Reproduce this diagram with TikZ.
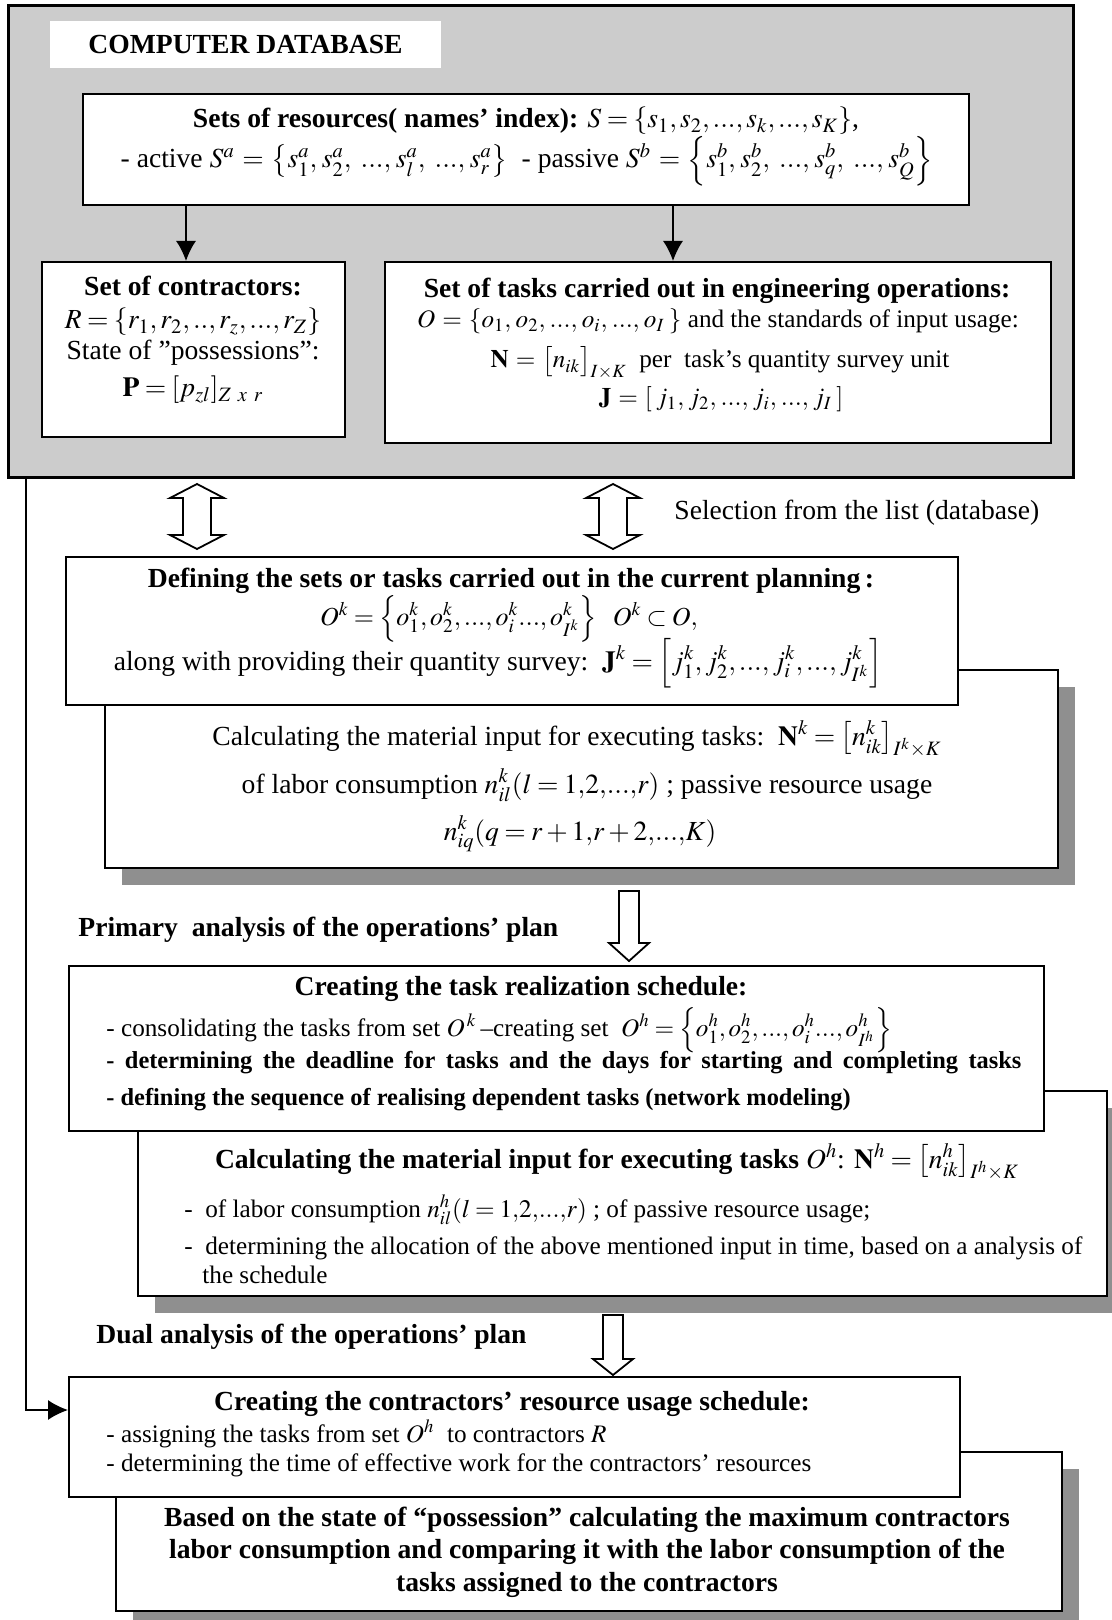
\documentclass[tikz,border=0pt]{standalone}
\usepackage{mathptmx}
\usepackage[no-math]{fontspec}
\setmainfont{Liberation Serif}
\usetikzlibrary{arrows.meta}

\thinmuskip=2mu
\medmuskip=2.5mu plus 1mu
\thickmuskip=3.5mu plus 1mu
\newcommand{\widemath}{\thinmuskip=3mu\medmuskip=4mu plus 2mu\thickmuskip=5mu plus 5mu}

\tikzstyle{box}=[rectangle,draw=black,line width=1pt,fill=white,inner sep=0pt]
\tikzstyle{shade}=[rectangle,fill=black!44,inner sep=0pt]
\tikzstyle{txt}=[inner sep=0pt,font=\fontsize{13.8}{16.5}\selectfont]
\tikzstyle{btxt}=[inner sep=0pt,font=\fontsize{13.8}{16.5}\selectfont\bfseries]
\tikzstyle{stxt}=[inner sep=0pt,font=\fontsize{12.6}{15}\selectfont]
\tikzstyle{sbtxt}=[inner sep=0pt,font=\fontsize{12.2}{15}\selectfont\bfseries]
\tikzstyle{hollow}=[draw=black,line width=0.9pt,fill=white,line join=miter]
\tikzstyle{link}=[-{Latex[length=10pt,width=10pt]},line width=0.8pt]

\begin{document}
\begin{tikzpicture}[x=0.5pt,y=-0.5pt,>=latex]
	\clip (0,0) rectangle (1112,1620);
	\fill[white] (0,0) rectangle (1112,1620);

	% database
	\node[box,fill=black!20,line width=1.5pt,minimum width=532.5pt,minimum height=235.5pt] (db) at (540.5,241.5) {};
	\node[rectangle,fill=white,minimum width=195.5pt,minimum height=23.5pt,font=\fontsize{13.8}{16.5}\selectfont\bfseries] (dbname) at (245.5,44.5) {COMPUTER DATABASE};

	\node[box,minimum width=443pt,minimum height=55.5pt] (res) at (526,149.5) {};
	\node[txt,anchor=base] (res1) at (526,128) {\textbf{Sets of resources( names’ index):} $S=\{s_1, s_2, ..., s_k, ..., s_K\}$,};
	\node[txt,anchor=base] (res2) at (527,168) {\widemath - active $S^a=\left\{s_1^a, s_2^a,\,..., s_l^a,\,..., s_r^a\right\}$ \ - passive $S^b=\left\{s_1^b, s_2^b,\,..., s_q^b,\,..., s_Q^b\right\}$};

	\node[box,minimum width=151.5pt,minimum height=87.5pt] (contr) at (193.5,349.5) {};
	\node[btxt,anchor=base] (contr1) at (193,296) {Set of contractors:};
	\node[txt,anchor=base] (contr2) at (193,329) {$R=\{r_1, r_2, .., r_z, ..., r_Z\}$};
	\node[txt,anchor=base] (contr3) at (193,360) {State of ”possessions”:};
	\node[txt,anchor=base] (contr4) at (193,397) {$\mathbf{P}=[p_{zl}]_{Z\ x\ r}$};

	\node[box,minimum width=333pt,minimum height=90.5pt] (tasks) at (718,352.5) {};
	\node[btxt,anchor=base] (tasks1) at (717,298) {Set of tasks carried out in engineering operations:};
	\node[stxt,anchor=base] (tasks2) at (718,328) {\widemath $O=\{o_1, o_2, ..., o_i, ..., o_I\,\}$ and the standards of input usage:};
	\node[stxt,anchor=base] (tasks3) at (720,368) {\widemath $\mathbf{N}=\bigl[n_{ik}\bigr]_{I\times K}$ \ per\ \ task’s quantity survey unit};
	\node[stxt,anchor=base] (tasks4) at (721,406) {\widemath $\mathbf{J}=[\,j_1, j_2, ..., j_i, ..., j_I\,]$};

	\coordinate (a1) at (186,0);
	\coordinate (a2) at (673,0);
	\draw[link] (res.south -| a1) -- (contr.north -| a1);
	\draw[link] (res.south -| a2) -- (tasks.north -| a2);

	% selection from the list
	\foreach \cx in {197,613}
		\draw[hollow] (\cx,484) -- ++(27,14) -- ++(-13,0) -- ++(0,37) -- ++(13,0) -- ++(-27,14)
			-- ++(-27,-14) -- ++(13,0) -- ++(0,-37) -- ++(-13,0) -- cycle;
	\node[txt,anchor=base west] (sel) at (674,519) {Selection from the list (database)};

	% current planning
	\node[shade,minimum width=476.5pt,minimum height=99pt] (calckshade) at (598.5,786) {};
	\node[box,minimum width=476.5pt,minimum height=99pt] (calck) at (581.5,769) {};
	\node[box,minimum width=446pt,minimum height=74pt] (def) at (512,631) {};
	\node[btxt,anchor=base] (def1) at (511,587) {Defining the sets or tasks carried out in the current planning\,:};
	\node[stxt,anchor=base] (def2) at (509,625) {\fontsize{13}{15}\selectfont $O^k=\left\{o_1^k, o_2^k,..., o_i^k ..., o_{I^k}^k\right\}\ \ O^k\subset O,$};
	\node[txt,anchor=base] (def3) at (498,670) {along with providing their quantity survey:\ \ $\mathbf{J}^k=\left[j_1^k, j_2^k,..., j_i^k,..., j_{I^k}^k\right]$};
	\node[txt,anchor=base] (calck1) at (577,745) {Calculating the material input for executing tasks:\ \ $\mathbf{N}^k=\left[n_{ik}^k\right]_{I^k\times K}$};
	\node[txt,anchor=base] (calck2) at (587,793) {of labor consumption $n_{il}^k(l=1{,}2{,}...{,}r)$ ; passive resource usage};
	\node[txt,anchor=base] (calck3) at (580,840) {$n_{iq}^k(q=r+1{,}r+2{,}...{,}K)$};

	% primary analysis
	\draw[hollow] (619,891) -- ++(20,0) -- ++(0,52) -- ++(10,0) -- ++(-20,18) -- ++(-20,-18) -- ++(10,0) -- cycle;
	\node[btxt,anchor=base west] (prim) at (78,936) {Primary\ \ analysis of the operations’ plan};

	\node[shade,minimum width=484.5pt,minimum height=102.5pt] (calchshade) at (639.5,1210.5) {};
	\node[box,minimum width=484.5pt,minimum height=102.5pt] (calch) at (622.5,1193.5) {};
	\node[box,minimum width=487.5pt,minimum height=82.5pt] (sched) at (556.5,1048.5) {};
	\node[btxt,anchor=base] (sched1) at (521,995) {Creating the task realization schedule:};
	\node[stxt,anchor=base west] (sched2) at (106,1036) {- consolidating the tasks from set $O^{\,k}$\,–creating set\ \ $O^h=\left\{o_1^h, o_2^h,..., o_i^h ..., o_{I^h}^h\right\}$};
	\node[sbtxt,anchor=base west] (sched3) at (106,1068) {\makebox[457.5pt][s]{- determining the deadline for tasks and the days for starting and completing tasks}};
	\node[sbtxt,anchor=base west] (sched4) at (106,1105) {- defining the sequence of realising dependent tasks (network modeling)};
	\node[txt,anchor=base] (calch1) at (617,1168) {\textbf{Calculating the material input for executing tasks} $O^h$: $\mathbf{N}^h=\left[n_{ik}^h\right]_{I^h\times K}$};
	\node[stxt,anchor=base west] (calch2) at (184,1217) {- \ of labor consumption $n_{il}^h(l=1{,}2{,}...{,}r)$ ; of passive resource usage;};
	\node[stxt,anchor=base west] (calch3) at (184,1254) {- \ determining the allocation of the above mentioned input in time, based on a analysis of};
	\node[stxt,anchor=base west] (calch4) at (202,1283) {the schedule};

	% dual analysis
	\draw[hollow] (603,1315) -- ++(20,0) -- ++(0,44) -- ++(10,0) -- ++(-20,16) -- ++(-20,-16) -- ++(10,0) -- cycle;
	\node[btxt,anchor=base west] (dual) at (96,1343) {Dual analysis of the operations’ plan};

	\node[shade,minimum width=473pt,minimum height=79.5pt] (basedshade) at (606,1548.5) {};
	\node[box,minimum width=473pt,minimum height=79.5pt] (based) at (589,1531.5) {};
	\node[box,minimum width=445.5pt,minimum height=60pt] (crs) at (514.5,1437) {};
	\node[btxt,anchor=base] (crs1) at (512,1410) {Creating the contractors’ resource usage schedule:};
	\node[stxt,anchor=base west] (crs2) at (106,1442) {- assigning the tasks from set $O^h$\ \ to contractors $R$};
	\node[stxt,anchor=base west] (crs3) at (106,1471) {- determining the time of effective work for the contractors’ resources};
	\node[btxt,anchor=base] (based1) at (587,1526) {Based on the state of “possession” calculating the maximum contractors};
	\node[btxt,anchor=base] (based2) at (587,1558) {labor consumption and comparing it with the labor consumption of the};
	\node[btxt,anchor=base] (based3) at (587,1591) {tasks assigned to the contractors};

	\coordinate (lx) at (26,1410);
	\draw[link] (db.south -| lx) -- (lx) -- (lx -| crs.west);
\end{tikzpicture}
\end{document}
